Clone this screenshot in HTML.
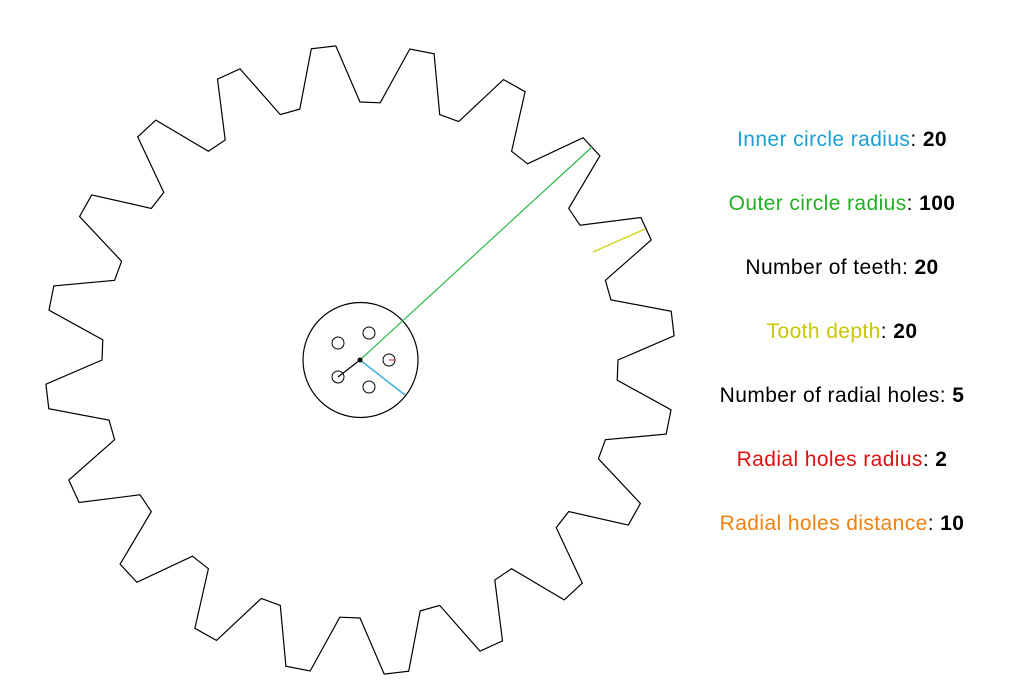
<!DOCTYPE html>
<html><head><meta charset="utf-8"><style>
html,body{margin:0;padding:0;background:#fff;width:1020px;height:698px;overflow:hidden}
.t{position:absolute;left:842px;transform:translateX(-50%);white-space:nowrap;font-family:"Liberation Sans",sans-serif;font-size:21px;letter-spacing:0.4px;color:#000}
.t b{font-weight:bold}
</style></head><body>
<svg id="s" width="1020" height="698" style="position:absolute;left:0;top:0">
<path id="g" fill="none" stroke="#000" stroke-width="1.2"/>
<circle cx="360.5" cy="360" r="57.5" fill="none" stroke="#000" stroke-width="1.2"/>
<circle cx="338" cy="377" r="6" fill="none" stroke="#000"/>
<circle cx="338" cy="343" r="6" fill="none" stroke="#000"/>
<circle cx="369" cy="333" r="6" fill="none" stroke="#000"/>
<circle cx="389" cy="360" r="6" fill="none" stroke="#000"/>
<circle cx="369" cy="387" r="6" fill="none" stroke="#000"/>
<line x1="389" y1="360" x2="395" y2="360" stroke="#e01010" stroke-width="1"/>
<line x1="360" y1="360" x2="592" y2="147" stroke="#2eb84a" stroke-width="1.2"/>
<line x1="360" y1="360" x2="405" y2="395" stroke="#3aaed8" stroke-width="1.5"/>
<line x1="360" y1="360" x2="338" y2="377" stroke="#000" stroke-width="1.2"/>
<line x1="593" y1="252" x2="645" y2="229" stroke="#d4d420" stroke-width="1.5"/>
<circle cx="360" cy="360" r="2.5" fill="#000"/>
</svg>
<script>
var cx=360,cy=360,R=315,r=258,d="";
function p(a,rad){a=a*Math.PI/180;return (cx+rad*Math.sin(a)).toFixed(1)+","+(cy-rad*Math.cos(a)).toFixed(1);}
for(var k=0;k<20;k++){var a=18*k;
d+=(k?"L":"M")+p(a,r)+"L"+p(a+4.5,r)+"L"+p(a+9.1,R)+"L"+p(a+13.6,R);}
document.getElementById("g").setAttribute("d",d+"Z");
</script>
<div class="t" style="top:128px"><span style="color:#1ba1d4">Inner circle radius</span>: <b>20</b></div>
<div class="t" style="top:192px"><span style="color:#22b022">Outer circle radius</span>: <b>100</b></div>
<div class="t" style="top:256px">Number of teeth: <b>20</b></div>
<div class="t" style="top:320px"><span style="color:#c8c800">Tooth depth</span>: <b>20</b></div>
<div class="t" style="top:384px">Number of radial holes: <b>5</b></div>
<div class="t" style="top:448px"><span style="color:#e01010">Radial holes radius</span>: <b>2</b></div>
<div class="t" style="top:512px"><span style="color:#f08010">Radial holes distance</span>: <b>10</b></div>
</body></html>
